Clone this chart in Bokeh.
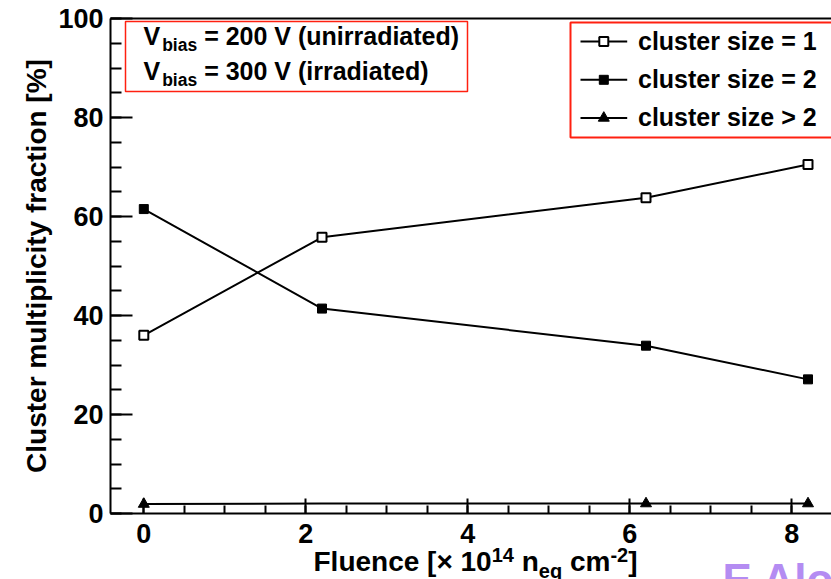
from bokeh.plotting import figure
from bokeh.models import Range1d, SingleIntervalTicker, Label, BoxAnnotation, ColumnDataSource
from bokeh.embed import file_html
from bokeh.resources import INLINE

# ---- data -------------------------------------------------------------
fluence = [0.0, 2.2, 6.2, 8.2]                 # x 10^14 n_eq cm^-2
frac_size1 = [36.0, 55.8, 63.8, 70.5]          # cluster size = 1  [%]
frac_size2 = [61.5, 41.4, 33.9, 27.1]          # cluster size = 2  [%]
frac_size3 = [1.9, 2.0, 2.0, 2.0]              # cluster size > 2  [%]
size3_marker_drawn = [True, False, True, True]

series_labels = ["cluster size = 1", "cluster size = 2", "cluster size > 2"]
bias_voltages = ["200", "300"]
bias_conditions = ["unirradiated", "irradiated"]

# ---- geometry (pixels) ------------------------------------------------
W, H = 831, 579
AXIS_L, AXIS_T, AXIS_B = 110, 18, 513          # drawn axis box (frame = full canvas)
X0_PX, PX_PER_X = 143.3, 81.0
Y_PX_PER = (AXIS_B - AXIS_T) / 100.0

FONT = "Liberation Sans"
BOX_RED = "#ff2010"
# Label anchors sit this fraction of the font size below the text baseline
BASELINE_SHIFT = 0.39


def px_x(px):
    return (px - X0_PX) / PX_PER_X


def px_y(py):
    return (AXIS_B - py) / Y_PX_PER


# Helvetica-Bold advance widths (1/1000 em)
HB = {' ': 278, '(': 333, ')': 333, '-': 333, '[': 333, ']': 333, '=': 584,
      '>': 584, '\u00d7': 584, '%': 889, 'F': 611, 'V': 667, 'C': 722,
      'a': 556, 'b': 611, 'c': 556, 'd': 611, 'e': 556, 'f': 333, 'i': 278,
      'l': 278, 'm': 889, 'n': 611, 'o': 611, 'p': 611, 'q': 611, 'r': 389,
      's': 556, 't': 333, 'u': 611, 'y': 556, 'z': 500}


def text_width(s, size):
    return sum(HB.get(ch, 556) for ch in s) * size / 1000.0


def add_text(p, x_px, base_px, txt, size, color="black"):
    p.add_layout(Label(x=px_x(x_px), y=px_y(base_px - BASELINE_SHIFT * size), text=txt,
                       text_font=FONT, text_font_size=f"{size}px",
                       text_font_style="bold", text_color=color,
                       text_align="left", text_baseline="alphabetic"))


def rich_text(p, x_px, base_px, runs, color="black"):
    """Draw text runs (text, size, rise, gap) one after another."""
    x = x_px
    for txt, size, rise, gap in runs:
        x += gap
        add_text(p, x, base_px - rise, txt, size, color)
        x += text_width(txt, size)


# ---- figure -----------------------------------------------------------
p = figure(width=W, height=H, output_backend="svg", toolbar_location=None,
           x_range=Range1d(px_x(0), px_x(W)), y_range=Range1d(px_y(H), px_y(0)),
           min_border_left=0, min_border_right=0, min_border_top=0, min_border_bottom=0)
p.title.visible = False
p.background_fill_color = "white"
p.border_fill_color = "white"
p.outline_line_color = None
p.xgrid.visible = False
p.ygrid.visible = False

for ax in (p.xaxis[0], p.yaxis[0]):
    ax.axis_line_width = 2
    ax.major_tick_out = 0
    ax.minor_tick_out = 0
    ax.major_tick_line_width = 2
    ax.minor_tick_line_width = 2
    ax.major_label_text_font = FONT
    ax.major_label_text_font_size = "27px"
    ax.major_label_text_font_style = "bold"
    ax.major_label_text_color = "black"

p.xaxis.fixed_location = 0
p.xaxis.bounds = (px_x(AXIS_L), px_x(W))
p.xaxis.ticker = SingleIntervalTicker(interval=2, num_minor_ticks=4)
p.xaxis.major_tick_in = 15
p.xaxis.minor_tick_in = 8
p.xaxis.major_label_standoff = 10

p.yaxis.fixed_location = px_x(AXIS_L)
p.yaxis.bounds = (0, 100)
p.yaxis.ticker = SingleIntervalTicker(interval=20, num_minor_ticks=4)
p.yaxis.major_tick_in = 22
p.yaxis.minor_tick_in = 11
p.yaxis.major_label_standoff = 7
p.yaxis.axis_label = "Cluster multiplicity fraction [%]"
p.yaxis.axis_label_text_font = FONT
p.yaxis.axis_label_text_font_size = "28px"
p.yaxis.axis_label_text_font_style = "bold"
p.yaxis.axis_label_text_color = "black"
p.yaxis.axis_label_standoff = 3

# top edge of the axis box
p.segment(x0=[px_x(AXIS_L)], x1=[px_x(W)], y0=[100], y1=[100],
          line_color="black", line_width=2)

# ---- data series ------------------------------------------------------
styles = [
    dict(marker="square", size=9, fill_color="white", line_color="black", line_width=2),
    dict(marker="square", size=9, fill_color="black", line_color="black", line_width=1),
    dict(marker="triangle", size=11, fill_color="black", line_color="black", line_width=1),
]
series = [frac_size1, frac_size2, frac_size3]
masks = [[True] * len(fluence), [True] * len(fluence), size3_marker_drawn]

for vals, st, mask in zip(series, styles, masks):
    p.line(fluence, vals, line_color="black", line_width=2)
    src = ColumnDataSource(dict(x=[f for f, m in zip(fluence, mask) if m],
                                y=[v for v, m in zip(vals, mask) if m]))
    p.scatter("x", "y", source=src, **st)

# ---- legend box (top right) --------------------------------------------
p.add_layout(BoxAnnotation(left=px_x(570), right=px_x(860), top=px_y(22), bottom=px_y(137),
                           fill_color="white", fill_alpha=1.0, level="underlay",
                           line_color=BOX_RED, line_alpha=1.0, line_width=2))
row_y = [41.0, 79.3, 117.5]
for lbl, st, ry in zip(series_labels, styles, row_y):
    p.segment(x0=[px_x(580)], x1=[px_x(626.7)], y0=[px_y(ry)], y1=[px_y(ry)],
              line_color="black", line_width=2)
    p.scatter([px_x(603.3)], [px_y(ry)], **st)
    add_text(p, 637.5, ry + 9.2, lbl, 25)

# ---- bias voltage box (top left) -------------------------------------
p.add_layout(BoxAnnotation(left=px_x(125), right=px_x(467), top=px_y(21), bottom=px_y(91),
                           fill_color="white", fill_alpha=1.0, level="underlay",
                           line_color=BOX_RED, line_alpha=1.0, line_width=1.5))
for volt, cond, base in zip(bias_voltages, bias_conditions, [45.0, 80.0]):
    rich_text(p, 143.0, base, [("V", 25, 0, 0),
                               ("bias", 17.5, -6.5, 2),
                               (f"= {volt} V ({cond})", 25, 0, text_width(" ", 25))])

# ---- x-axis title with super/subscripts ------------------------------
rich_text(p, 313.0, 572.0, [("Fluence [\u00d7 10", 28, 0, 0),
                            ("14", 20, 9.5, 0),
                            ("n", 28, 0, text_width(" ", 28)),
                            ("eq", 20, -6, 0),
                            ("cm", 28, 0, text_width(" ", 28)),
                            ("-2", 20, 9.5, 0),
                            ("]", 28, 0, 0)])

# ---- watermark -------------------------------------------------------
add_text(p, 722.0, 596.0, "E Alo", 44, color="#b48cf2")

open("out.html", "w").write(file_html(p, INLINE))
